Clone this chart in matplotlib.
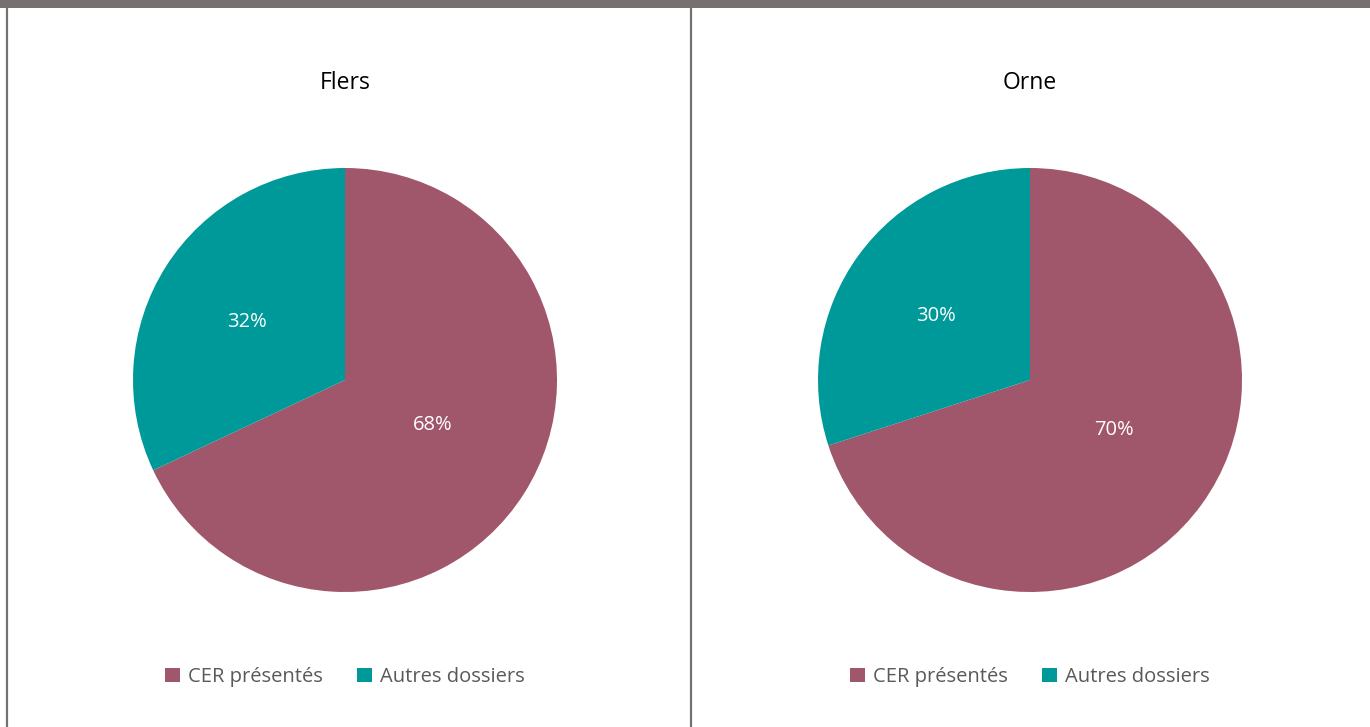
import matplotlib
matplotlib.use("Agg")
import matplotlib.pyplot as plt
from matplotlib.patches import Rectangle, Patch
import numpy as np

plt.rcParams['font.family'] = ['Open Sans', 'DejaVu Sans']

categories = ["CER présentés", "Autres dossiers"]
titles = ["Flers", "Orne"]
values_flers = [68, 32]
values_orne = [70, 30]
colors = ["#A0566B", "#009999"]
label_dist = [0.49, 0.55]
label_nudge = [0.05, -0.02]

W, H = 1370, 727
fig = plt.figure(figsize=(W / 100, H / 100), dpi=100)
fig.patch.set_facecolor("white")

# frame elements
fig.add_artist(Rectangle((0, 1 - 8 / H), 1, 8 / H, transform=fig.transFigure,
                         facecolor="#767170", edgecolor="none"))
fig.add_artist(plt.Line2D([6.5 / W, 6.5 / W], [0, 1 - 8 / H], transform=fig.transFigure,
                          color="#767170", lw=1.6))
fig.add_artist(plt.Line2D([690.5 / W, 690.5 / W], [0, 1 - 8 / H], transform=fig.transFigure,
                          color="#767170", lw=1.6))

R = 212
for cx, title, vals in [(345, titles[0], values_flers), (1030, titles[1], values_orne)]:
    cy = 380
    ax = fig.add_axes([(cx - R) / W, (H - cy - R) / H, 2 * R / W, 2 * R / H])
    wedges, _ = ax.pie(vals, colors=colors, startangle=90, counterclock=False,
                       radius=1, wedgeprops=dict(linewidth=0))
    tot = sum(vals)
    for w, v, d, n in zip(wedges, vals, label_dist, label_nudge):
        ang = np.deg2rad((w.theta1 + w.theta2) / 2)
        ax.text(d * np.cos(ang), d * np.sin(ang) + n, f"{round(100 * v / tot)}%",
                ha="center", va="center", color="white", fontsize=14.5)
    ax.set_xlim(-1, 1)
    ax.set_ylim(-1, 1)
    ax.set_aspect("equal")
    ax.axis("off")
    fig.text(cx / W, 1 - 83 / H, title, ha="center", va="center", fontsize=16.5, color="black")
    handles = [Patch(facecolor=c, edgecolor="none") for c in colors]
    fig.legend(handles, categories, loc="center", bbox_to_anchor=(cx / W, 1 - 677 / H),
               ncol=2, frameon=False, fontsize=14.5, labelcolor="#595959",
               handlelength=0.75, handleheight=0.75, handletextpad=0.4, columnspacing=1.7)

fig.savefig("out.png", dpi=100)
